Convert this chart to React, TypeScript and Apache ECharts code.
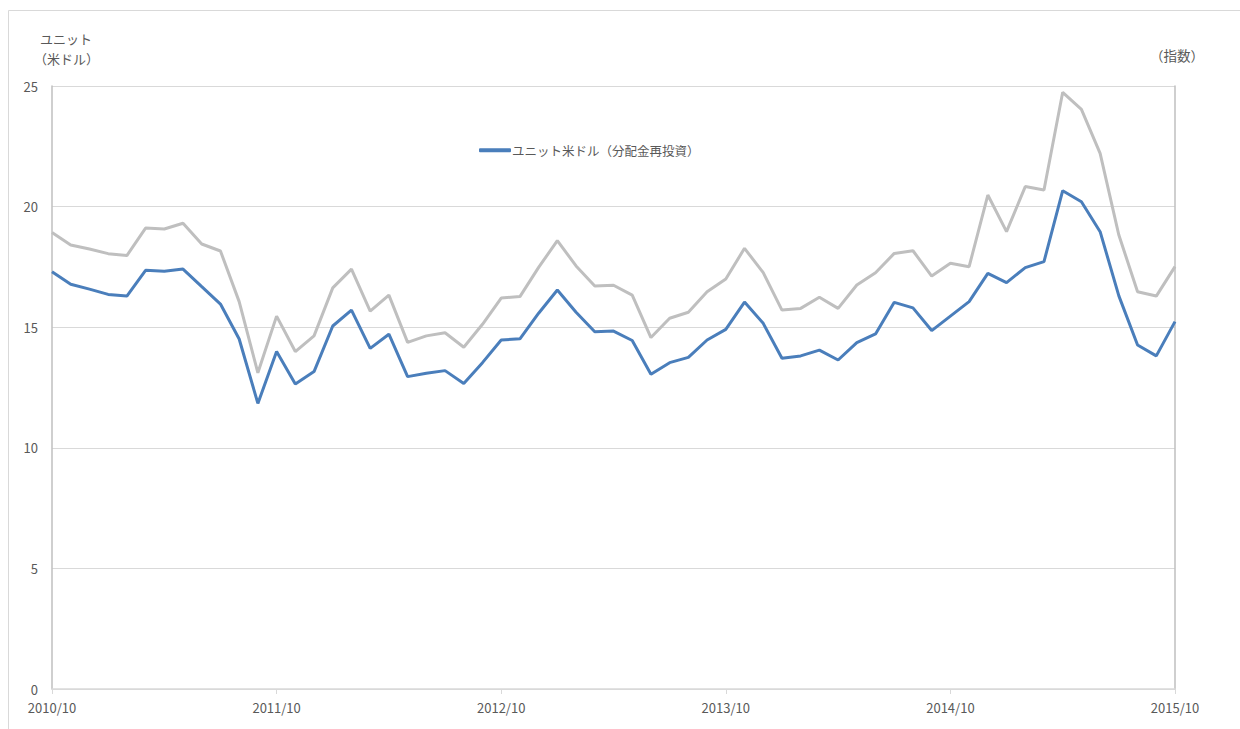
import React, { useEffect, useRef } from "react";
import * as echarts from "echarts";

const months: string[] = [];
for (let y = 2010; y <= 2015; y++) {
  for (let m = 1; m <= 12; m++) {
    if ((y === 2010 && m < 10) || (y === 2015 && m > 10)) continue;
    months.push(`${y}/${m}`);
  }
}

const unitUsd = [
  17.3, 16.78, 16.58, 16.36, 16.29, 17.36, 17.32, 17.41, 16.68, 15.96,
  14.51, 11.84, 13.99, 12.65, 13.16, 15.05, 15.71, 14.12, 14.71, 12.95,
  13.09, 13.2, 12.67, 13.53, 14.47, 14.52, 15.58, 16.54, 15.62, 14.81,
  14.84, 14.45, 13.05, 13.53, 13.75, 14.47, 14.91, 16.04, 15.16, 13.71,
  13.81, 14.05, 13.64, 14.36, 14.72, 16.03, 15.8, 14.86, 15.46, 16.06,
  17.23, 16.85, 17.47, 17.72, 20.66, 20.2, 18.96, 16.3, 14.26, 13.81,
  15.23,
];

const indexSeries = [
  18.93, 18.41, 18.24, 18.05, 17.97, 19.11, 19.07, 19.31, 18.45, 18.16,
  16.06, 13.11, 15.46, 13.99, 14.64, 16.63, 17.41, 15.67, 16.33, 14.37,
  14.64, 14.77, 14.17, 15.12, 16.21, 16.27, 17.48, 18.59, 17.54, 16.71,
  16.74, 16.33, 14.57, 15.37, 15.62, 16.47, 17.0, 18.27, 17.26, 15.71,
  15.78, 16.24, 15.78, 16.75, 17.26, 18.06, 18.17, 17.12, 17.65, 17.51,
  20.48, 18.96, 20.83, 20.69, 24.74, 24.03, 22.21, 18.82, 16.47, 16.29,
  17.51,
];

const FONT = "'Noto Sans CJK JP', 'Noto Sans', sans-serif";
const TXT = "#595959";

export default function App() {
  const ref = useRef<HTMLDivElement>(null);
  useEffect(() => {
    if (!ref.current) return;
    const chart = echarts.init(ref.current, undefined, { renderer: "svg" });
    chart.setOption({
      animation: false,
      textStyle: { fontFamily: FONT },
      graphic: [
        {
          type: "rect",
          shape: { x: 8.5, y: 10.5, width: 1240, height: 730 },
          style: { fill: "none", stroke: "#d9d9d9", lineWidth: 1 },
          silent: true,
        },
        {
          type: "text",
          x: 40,
          y: 32,
          style: { text: "ユニット", fill: TXT, font: `13px ${FONT}` },
        },
        {
          type: "text",
          x: 34,
          y: 52,
          style: { text: "（米ドル）", fill: TXT, font: `13px ${FONT}` },
        },
        {
          type: "text",
          x: 1150,
          y: 48,
          style: { text: "（指数）", fill: TXT, font: `13.5px ${FONT}` },
        },
      ],
      legend: {
        data: ["ユニット米ドル（分配金再投資）"],
        left: 474,
        top: 139,
        itemWidth: 32,
        itemHeight: 4,
        itemGap: 4,
        icon: "roundRect",
        textStyle: { color: TXT, fontSize: 12.5, fontFamily: FONT, padding: [0, 0, 0, -4] },
      },
      grid: { left: 52, right: 65, top: 86, bottom: 40, containLabel: false },
      xAxis: {
        type: "category",
        data: months,
        boundaryGap: false,
        axisLine: { lineStyle: { color: "#d9d9d9", width: 1.5 } },
        axisTick: { show: true, interval: 11, length: 5, lineStyle: { color: "#d9d9d9" } },
        axisLabel: {
          interval: 11,
          color: TXT,
          fontSize: 13,
          fontFamily: FONT,
          margin: 12,
        },
        splitLine: { show: false },
      },
      yAxis: [
        {
          type: "value",
          min: 0,
          max: 25,
          interval: 5,
          axisLine: { show: true, lineStyle: { color: "#bfbfbf", width: 1.5 } },
          axisTick: { show: false },
          axisLabel: { color: TXT, fontSize: 13, fontFamily: FONT, margin: 14 },
          splitLine: { lineStyle: { color: "#d9d9d9", width: 1 } },
        },
        {
          type: "value",
          position: "right",
          min: 0,
          max: 25,
          interval: 5,
          axisLine: { show: true, lineStyle: { color: "#bfbfbf", width: 1.5 } },
          axisTick: { show: false },
          axisLabel: { show: false },
          splitLine: { show: false },
        },
      ],
      series: [
        {
          name: "指数",
          type: "line",
          yAxisIndex: 1,
          data: indexSeries,
          showSymbol: false,
          symbol: "none",
          lineStyle: { color: "#bfbfbf", width: 3 },
          itemStyle: { color: "#bfbfbf" },
        },
        {
          name: "ユニット米ドル（分配金再投資）",
          type: "line",
          data: unitUsd,
          showSymbol: false,
          symbol: "none",
          lineStyle: { color: "#4a7ebb", width: 3 },
          itemStyle: { color: "#4a7ebb" },
        },
      ],
    });
    return () => chart.dispose();
  }, []);
  return (
    <div
      ref={ref}
      style={{ position: "absolute", left: 0, top: 0, width: 1240, height: 729 }}
    />
  );
}
